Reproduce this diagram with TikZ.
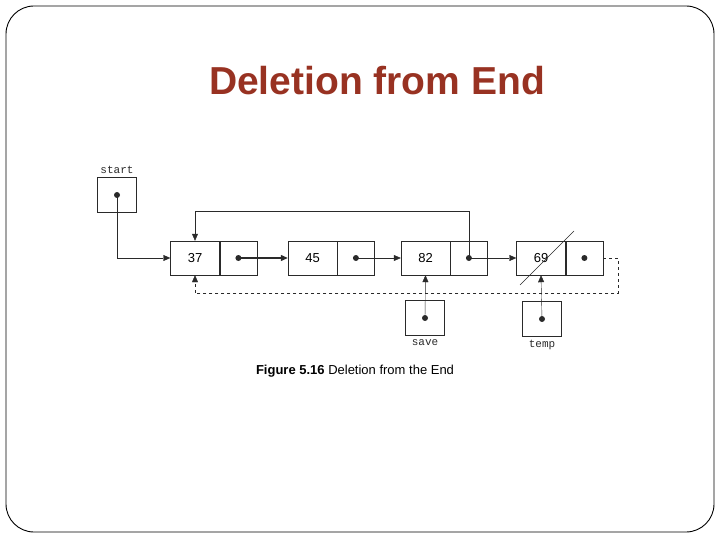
\documentclass[tikz,border=0pt]{standalone}
\usepackage{fontspec}
\setmainfont{Liberation Sans}
\setmonofont{Liberation Mono}
\usepackage{tikz}
\usetikzlibrary{positioning, arrows.meta}
\definecolor{TitleRed}{HTML}{983222}
\definecolor{ScanInk}{HTML}{2A2A2A}

\begin{document}
\begin{tikzpicture}[x=1pt, y=-1pt,
    datacell/.style={draw=ScanInk, minimum width=49pt, minimum height=34pt, inner sep=0pt, font=\fontsize{13}{15}\selectfont},
    linkcell/.style={draw=ScanInk, minimum width=37pt, minimum height=34pt, inner sep=0pt},
    ptrbox/.style={draw=ScanInk, minimum width=39pt, minimum height=35pt, inner sep=0pt},
    ptr/.style={circle, fill=ScanInk, inner sep=0pt, minimum size=6pt},
    varname/.style={font=\ttfamily\fontsize{11}{13}\selectfont, text=ScanInk, inner sep=1pt},
    link/.style={ScanInk, -{Triangle[length=7pt, width=6pt]}}]
  \useasboundingbox (0,0) rectangle (720,540);
  \draw[black, line width=0.9pt, rounded corners=28pt] (6,6) rectangle (714,532);
  \node[font=\bfseries\fontsize{39}{44}\selectfont, text=TitleRed] (title) at (377,81) {Deletion from End};

  % the list
  \node[datacell] (n37) at (195,258) {37};
  \node[linkcell, right=0pt of n37] (l37) {};
  \node[ptr] (d37) at (l37) {};
  \node[datacell] (n45) at (312.5,258) {45};
  \node[linkcell, right=0pt of n45] (l45) {};
  \node[ptr] (d45) at (l45) {};
  \node[datacell] (n82) at (425.5,258) {82};
  \node[linkcell, right=0pt of n82] (l82) {};
  \node[ptr] (d82) at (l82) {};
  \node[datacell] (n69) at (541,258) {69};
  \node[linkcell, right=0pt of n69] (l69) {};
  \node[ptr] (d69) at (l69) {};
  \draw[ScanInk] ([shift={(-21,27)}]n69.center) -- ([shift={(33,-27)}]n69.center);

  % pointer variables
  \node[ptrbox] (start) at (117,195) {};
  \node[ptr] (startdot) at (start) {};
  \node[varname, above=2pt of start] (startlbl) {start};
  \node[ptrbox] (save) at (425,318) {};
  \node[ptr] (savedot) at (save) {};
  \node[varname, below=3pt of save] (savelbl) {save};
  \node[ptrbox] (temp) at (542,319) {};
  \node[ptr] (tempdot) at (temp) {};
  \node[varname, below=2pt of temp] (templbl) {temp};

  \draw[link] (startdot.center) |- (n37.west);
  \draw[link, line width=1.2pt] (d37.center) -- (n45.west);
  \draw[link] (d45.center) -- (n82.west);
  \draw[link] (d82.center) -- (n69.west);
  \draw[link] (d82.center) |- ([yshift=30pt]n37.north) -- (n37.north);
  \draw[link, dashed] (l69.east) -- ++(15,0) |- ([yshift=-18pt]n37.south) -- (n37.south);
  \draw[link] (savedot.center) -- (n82.south);
  \draw[link] (tempdot.center) -- (n69.south);

  \node[font=\fontsize{13}{15}\selectfont] (caption) at (355,371) {\textbf{Figure 5.16} Deletion from the End};
\end{tikzpicture}
\end{document}
